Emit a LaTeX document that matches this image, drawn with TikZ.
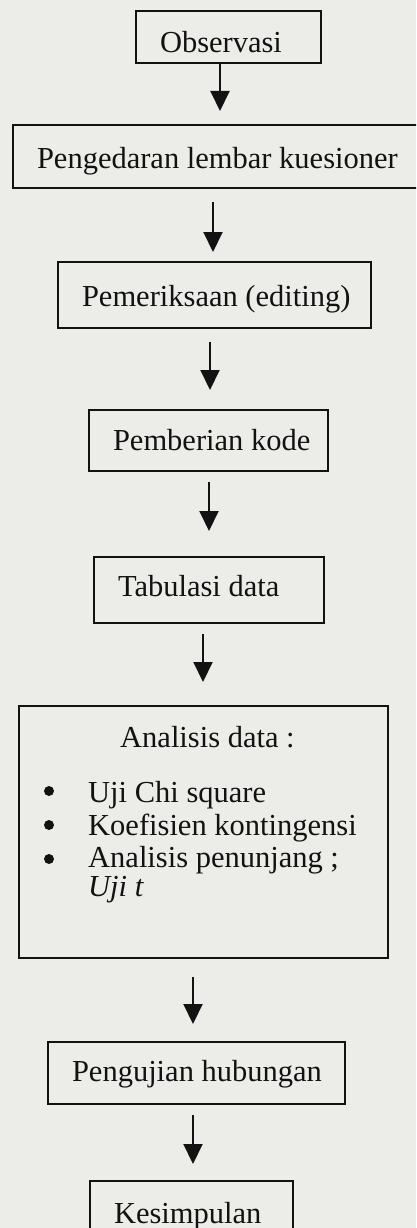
\documentclass[tikz,border=0pt]{standalone}
\usepackage{fontspec}
\setmainfont{Liberation Serif}
\usetikzlibrary{arrows.meta}
\definecolor{paper}{RGB}{236,236,233}
\definecolor{ink}{RGB}{18,18,18}
\tikzset{
  box/.style={draw=ink, line width=2pt, inner xsep=24pt, inner ysep=0pt,
    text depth=0pt, anchor=north west, text=ink},
  arr/.style={draw=ink, line width=2pt, -{Triangle[length=20pt,width=19pt]}},
  txt/.style={inner sep=0pt, anchor=base west, text=ink},
  dot/.style={circle, fill=ink, inner sep=0pt, minimum size=10pt}
}
\begin{document}
\begin{tikzpicture}[x=1pt, y=-1pt, font=\fontsize{30.5}{35}\selectfont]
\fill[paper] (0,0) rectangle (416,1228);
\useasboundingbox (0,0) rectangle (416,1228);
\clip (0,0) rectangle (416,1228);

\node[box, minimum width=185pt, minimum height=52pt, text height=32pt] (b1) at (135,10) {\makebox[137pt][l]{Observasi}};
\node[box, minimum width=410pt, minimum height=63pt, text height=23pt] (b2) at (12,124) {\makebox[362pt][l]{Pengedaran lembar kuesioner}};
\node[box, minimum width=313pt, minimum height=66pt, text height=22pt] (b3) at (57,261) {\makebox[265pt][l]{Pemeriksaan (editing)}};
\node[box, minimum width=239pt, minimum height=61pt, text height=19pt] (b4) at (88,409) {\makebox[191pt][l]{Pemberian kode}};
\node[box, minimum width=230pt, minimum height=66pt, text height=12pt] (b5) at (93,556) {\makebox[182pt][l]{Tabulasi data}};
\node[box, minimum width=369pt, minimum height=252pt] (b6) at (18,705) {};
\node[box, minimum width=297pt, minimum height=62pt, text height=16pt] (b7) at (47,1041) {\makebox[249pt][l]{Pengujian hubungan}};
\node[box, minimum width=203pt, minimum height=70pt, text height=14pt] (b8) at (89,1180) {\makebox[155pt][l]{Kesimpulan}};

% contents of the analysis box
\node[txt] (t6) at (120,747) {Analisis data :};
\node[dot] (p1) at (49,791) {};
\node[dot] (p2) at (49,825) {};
\node[dot] (p3) at (49,859) {};
\node[txt] (i1) at (88,802) {Uji Chi square};
\node[txt] (i2) at (88,835) {Koefisien kontingensi};
\node[txt] (i3) at (88,867) {Analisis penunjang ;};
\node[txt] (i4) at (88,896) {\textit{Uji t}};

% arrow columns
\coordinate (c1) at (220,0);
\coordinate (c2) at (213,0);
\coordinate (c3) at (210,0);
\coordinate (c4) at (209,0);
\coordinate (c5) at (203,0);
\coordinate (c6) at (193,0);
\coordinate (c7) at (193,0);

\draw[arr, shorten >=13pt] (b1.south -| c1) -- (b2.north -| c1);
\draw[arr, shorten <=13pt, shorten >=9pt] (b2.south -| c2) -- (b3.north -| c2);
\draw[arr, shorten <=13pt, shorten >=19pt] (b3.south -| c3) -- (b4.north -| c3);
\draw[arr, shorten <=10pt, shorten >=25pt] (b4.south -| c4) -- (b5.north -| c4);
\draw[arr, shorten <=10pt, shorten >=23pt] (b5.south -| c5) -- (b6.north -| c5);
\draw[arr, shorten <=18pt, shorten >=17pt] (b6.south -| c6) -- (b7.north -| c6);
\draw[arr, shorten <=10pt, shorten >=16pt] (b7.south -| c7) -- (b8.north -| c7);
\end{tikzpicture}
\end{document}
